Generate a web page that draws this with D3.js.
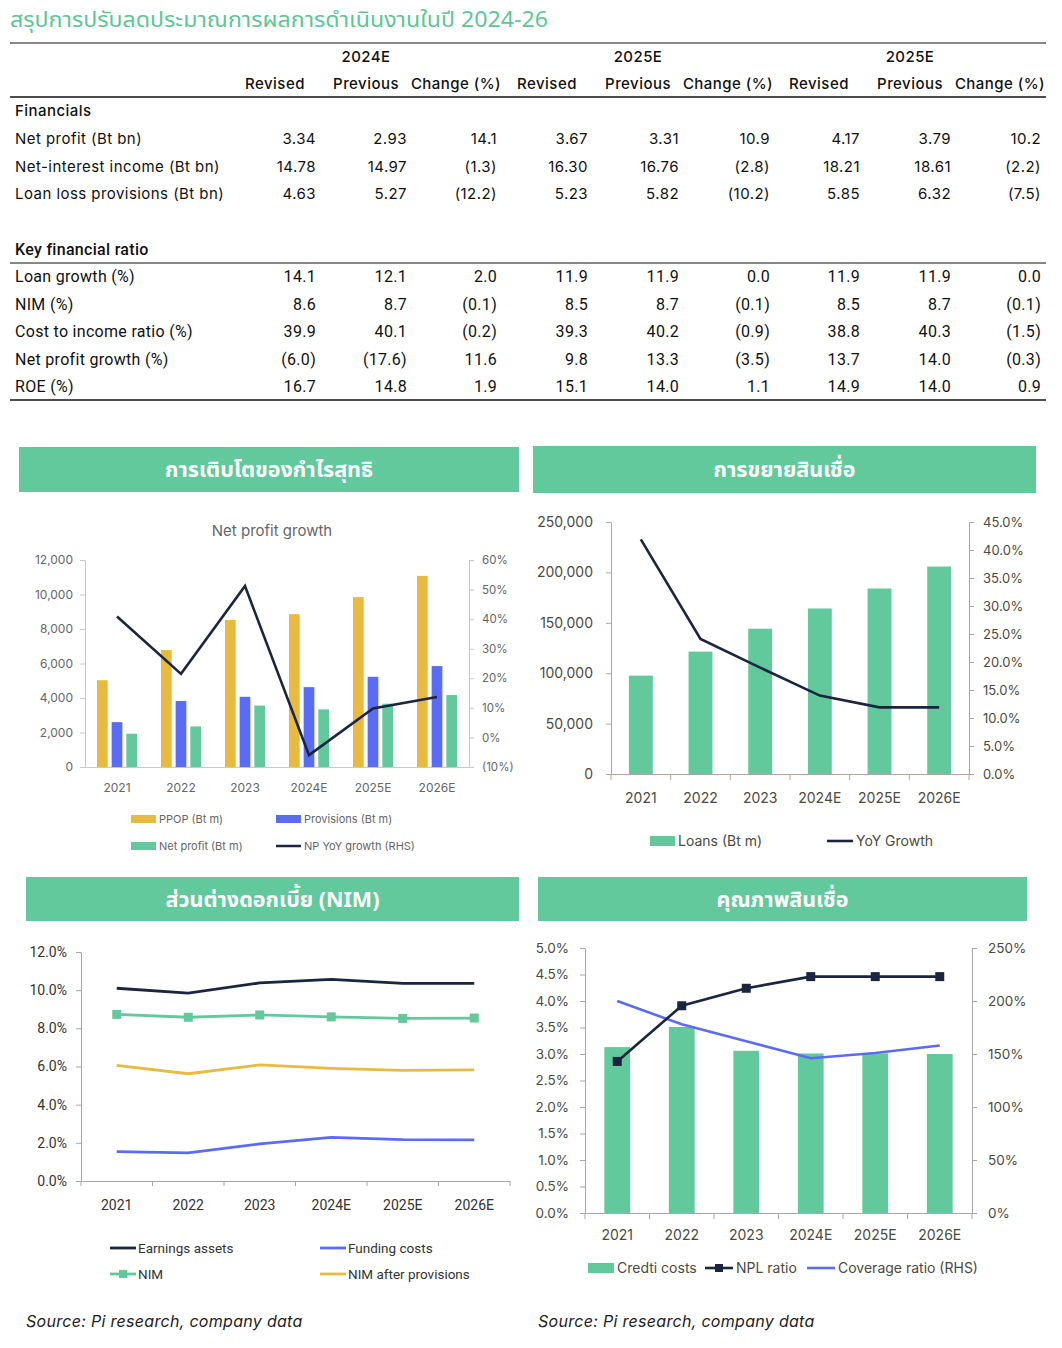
<!DOCTYPE html>
<html><head><meta charset="utf-8">
<script src="https://cdn.jsdelivr.net/npm/d3@7"></script>
<style>body{margin:0;background:#fff} svg{display:block}</style>
</head><body><svg id="c" width="1062" height="1348"></svg>
<script>
// ---------------- DATA ----------------
const pageTitle = "สรุปการปรับลดประมาณการผลการดำเนินงานในปี 2024-26";
const yearGroups = ["2024E", "2025E", "2025E"];
const subHeaders = ["Revised", "Previous", "Change (%)"];
const financialsTitle = "Financials";
const financialLabels = ["Net profit (Bt bn)", "Net-interest income (Bt bn)", "Loan loss provisions (Bt bn)"];
const financialValues = [
  ["3.34", "2.93", "14.1", "3.67", "3.31", "10.9", "4.17", "3.79", "10.2"],
  ["14.78", "14.97", "(1.3)", "16.30", "16.76", "(2.8)", "18.21", "18.61", "(2.2)"],
  ["4.63", "5.27", "(12.2)", "5.23", "5.82", "(10.2)", "5.85", "6.32", "(7.5)"]
];
const ratiosTitle = "Key financial ratio";
const ratioLabels = ["Loan growth (%)", "NIM (%)", "Cost to income ratio (%)", "Net profit growth (%)", "ROE (%)"];
const ratioValues = [
  ["14.1", "12.1", "2.0", "11.9", "11.9", "0.0", "11.9", "11.9", "0.0"],
  ["8.6", "8.7", "(0.1)", "8.5", "8.7", "(0.1)", "8.5", "8.7", "(0.1)"],
  ["39.9", "40.1", "(0.2)", "39.3", "40.2", "(0.9)", "38.8", "40.3", "(1.5)"],
  ["(6.0)", "(17.6)", "11.6", "9.8", "13.3", "(3.5)", "13.7", "14.0", "(0.3)"],
  ["16.7", "14.8", "1.9", "15.1", "14.0", "1.1", "14.9", "14.0", "0.9"]
];

const panelTitles = ["การเติบโตของกำไรสุทธิ", "การขยายสินเชื่อ", "ส่วนต่างดอกเบี้ย (NIM)", "คุณภาพสินเชื่อ"];
const sourceText = "Source: Pi research, company data";

const years = ["2021", "2022", "2023", "2024E", "2025E", "2026E"];

// Chart 1: Net profit growth
const chart1Title = "Net profit growth";
const ppop = [5030, 6780, 8520, 8860, 9850, 11080];
const provisions = [2600, 3830, 4070, 4630, 5230, 5850];
const netProfit = [1930, 2350, 3560, 3340, 3670, 4170];
const npGrowth = [40.9, 21.5, 51.2, -6.0, 9.8, 13.7];
const c1LeftTicks = [0, 2000, 4000, 6000, 8000, 10000, 12000];
const c1RightTicks = [-10, 0, 10, 20, 30, 40, 50, 60];
const c1Legend = ["PPOP (Bt m)", "Provisions (Bt m)", "Net profit (Bt m)", "NP YoY growth (RHS)"];

// Chart 2: Loans
const loans = [97600, 121400, 144100, 164200, 184000, 205800];
const loanGrowth = [41.9, 24.1, 19.0, 14.0, 11.9, 11.9];
const c2LeftTicks = [0, 50000, 100000, 150000, 200000, 250000];
const c2RightTicks = [0, 5, 10, 15, 20, 25, 30, 35, 40, 45];
const c2Legend = ["Loans (Bt m)", "YoY Growth"];

// Chart 3: NIM
const earningAssets = [10.1, 9.85, 10.38, 10.57, 10.36, 10.36];
const nim = [8.73, 8.58, 8.70, 8.60, 8.52, 8.54];
const nimAfterProv = [6.06, 5.62, 6.08, 5.90, 5.80, 5.82];
const fundingCosts = [1.54, 1.47, 1.94, 2.29, 2.17, 2.15];
const c3Ticks = [0, 2, 4, 6, 8, 10, 12];
const c3Legend = ["Earnings assets", "Funding costs", "NIM", "NIM after provisions"];

// Chart 4: Asset quality
const creditCosts = [3.13, 3.51, 3.06, 3.01, 3.01, 3.00];
const nplRatio = [2.86, 3.91, 4.24, 4.46, 4.46, 4.46];
const coverageRatio = [200, 178, 162, 146, 151, 158];
const c4LeftTicks = [0, 0.5, 1, 1.5, 2, 2.5, 3, 3.5, 4, 4.5, 5];
const c4RightTicks = [0, 50, 100, 150, 200, 250];
const c4Legend = ["Credti costs", "NPL ratio", "Coverage ratio (RHS)"];

// ---------------- STYLE ----------------
const GREEN = "#61c99b", GOLD = "#e8bb40", BLUE = "#5a6cf4", NAVY = "#1b2541";
const THAI = "'Noto Sans Thai','Noto Sans Thai UI','Noto Sans',sans-serif";
const TF = "Inter, 'Noto Sans', sans-serif";
const RF = "Roboto, sans-serif";

const svg = d3.select("#c");

// ---------------- TITLE ----------------
svg.append("text").attr("x", 10).attr("y", 27).text(pageTitle)
  .attr("font-family", THAI).attr("font-size", 21).attr("fill", "#5cc795")
  .attr("textLength", 538).attr("lengthAdjust", "spacingAndGlyphs");

// ---------------- TABLE ----------------
const colRight = [316, 407, 497, 588, 679, 770, 860, 951, 1041];
const colCenter = [275, 366, 456, 547, 638, 728, 819, 910, 1000];
const tbl = svg.append("g").attr("font-family", TF).attr("font-size", 15).attr("fill", "#111").attr("letter-spacing", 0.45);
const hline = (y, w) => tbl.append("line").attr("x1", 10).attr("x2", 1046).attr("y1", y).attr("y2", y).attr("stroke", "#111").attr("stroke-width", w);
hline(43, 1.2); hline(97, 1.6); hline(263, 1.2); hline(400, 1.6);
yearGroups.forEach((g, i) => tbl.append("text").attr("x", colCenter[i * 3 + 1]).attr("y", 62).attr("text-anchor", "middle").attr("font-weight", 500).text(g));
colCenter.forEach((cx, i) => tbl.append("text").attr("x", cx).attr("y", 89).attr("text-anchor", "middle").attr("font-weight", 500).text(subHeaders[i % 3]));
tbl.append("text").attr("x", 15).attr("y", 116).attr("font-weight", 500).text(financialsTitle);
financialLabels.forEach((lab, r) => {
  const y = 144 + r * 27.5;
  tbl.append("text").attr("x", 15).attr("y", y).text(lab);
  financialValues[r].forEach((v, c) => tbl.append("text").attr("x", colRight[c]).attr("y", y).attr("text-anchor", "end").text(v));
});
const tbl2 = svg.append("g").attr("font-family", RF).attr("font-size", 16).attr("fill", "#111").attr("letter-spacing", 0.3);
tbl2.append("text").attr("x", 15).attr("y", 254.5).attr("font-weight", 500).text(ratiosTitle);
ratioLabels.forEach((lab, r) => {
  const y = 282 + r * 27.6;
  tbl2.append("text").attr("x", 15).attr("y", y).text(lab);
  ratioValues[r].forEach((v, c) => tbl2.append("text").attr("x", colRight[c]).attr("y", y).attr("text-anchor", "end").text(v));
});

// ---------------- PANEL HEADERS ----------------
const panelBoxes = [[19, 447, 500, 45], [533, 446, 503, 47], [26, 877, 493, 44], [538, 877, 489, 44]];
panelBoxes.forEach((b, i) => {
  svg.append("rect").attr("x", b[0]).attr("y", b[1]).attr("width", b[2]).attr("height", b[3]).attr("fill", GREEN);
  svg.append("text").attr("x", b[0] + b[2] / 2).attr("y", b[1] + b[3] / 2 + 7.5).attr("text-anchor", "middle")
    .attr("font-family", THAI).attr("font-weight", 700).attr("font-size", 21.5).attr("fill", "#fff").text(panelTitles[i]);
});

function styleAxis(g, color, textColor, fs, ff) {
  g.selectAll("path").attr("stroke", color);
  g.selectAll("line").attr("stroke", color);
  g.selectAll("text").attr("fill", textColor).attr("font-size", fs).attr("font-family", ff);
}
const pct0 = d => d < 0 ? "(" + Math.abs(d) + "%)" : d + "%";

// ---------------- CHART 1 ----------------
{
  const x = d3.scaleBand().domain(years).range([85, 469]);
  const yL = d3.scaleLinear().domain([0, 12000]).range([767, 560]);
  const yR = d3.scaleLinear().domain([-10, 60]).range([767, 560]);
  const sub = d3.scaleBand().domain([0, 1, 2]).range([-20, 20]).paddingInner(0.27);
  const g = svg.append("g");
  const AX = "#c8c8c8", TX = "#666";
  svg.append("text").attr("x", 272).attr("y", 536).attr("text-anchor", "middle").attr("font-family", TF)
    .attr("font-size", 15).attr("fill", "#666").text(chart1Title);
  const la = g.append("g").attr("transform", "translate(85,0)")
    .call(d3.axisLeft(yL).tickValues(c1LeftTicks).tickFormat(d3.format(",")).tickSize(5).tickSizeOuter(0).tickPadding(7));
  styleAxis(la, AX, TX, 12, TF);
  const ra = g.append("g").attr("transform", "translate(469,0)")
    .call(d3.axisRight(yR).tickValues(c1RightTicks).tickFormat(pct0).tickSize(5).tickSizeOuter(0).tickPadding(8));
  styleAxis(ra, AX, TX, 11.5, TF);
  g.append("line").attr("x1", 80).attr("x2", 469).attr("y1", 767.5).attr("y2", 767.5).attr("stroke", AX);
  const series = [[ppop, GOLD], [provisions, BLUE], [netProfit, GREEN]];
  series.forEach(([vals, col], si) => {
    g.selectAll(null).data(years).enter().append("rect")
      .attr("x", d => x(d) + x.bandwidth() / 2 + sub(si))
      .attr("width", sub.bandwidth())
      .attr("y", (d, i) => yL(vals[i])).attr("height", (d, i) => yL(0) - yL(vals[i])).attr("fill", col);
  });
  g.append("path").datum(npGrowth)
    .attr("d", d3.line().x((d, i) => x(years[i]) + x.bandwidth() / 2).y(d => yR(d)))
    .attr("fill", "none").attr("stroke", NAVY).attr("stroke-width", 2.6);
  g.append("g").selectAll("text").data(years).enter().append("text")
    .attr("x", d => x(d) + x.bandwidth() / 2).attr("y", 792).attr("text-anchor", "middle")
    .attr("font-family", TF).attr("font-size", 12).attr("fill", TX).text(d => d);
  const lg = g.append("g").attr("font-family", TF).attr("font-size", 11).attr("fill", TX);
  const items = [[131, 819, "rect", GOLD], [276, 819, "rect", BLUE], [131, 846, "rect", GREEN], [276, 846, "line", NAVY]];
  items.forEach((it, i) => {
    if (it[2] === "rect") lg.append("rect").attr("x", it[0]).attr("y", it[1] - 4).attr("width", 25).attr("height", 8).attr("fill", it[3]);
    else lg.append("line").attr("x1", it[0]).attr("x2", it[0] + 25).attr("y1", it[1]).attr("y2", it[1]).attr("stroke", it[3]).attr("stroke-width", 2.5);
    lg.append("text").attr("x", it[0] + 28).attr("y", it[1] + 4).text(c1Legend[i]);
  });
}

// ---------------- CHART 2 ----------------
{
  const x = d3.scaleBand().domain(years).range([611, 969]).paddingInner(0.6).paddingOuter(0.3);
  const xb = d3.scaleBand().domain(years).range([611, 969]);
  const yL = d3.scaleLinear().domain([0, 250000]).range([774, 522]);
  const yR = d3.scaleLinear().domain([0, 45]).range([774, 522]);
  const AX = "#b3a698", TX = "#4d4a40";
  const g = svg.append("g");
  const la = g.append("g").attr("transform", "translate(611,0)")
    .call(d3.axisLeft(yL).tickValues(c2LeftTicks).tickFormat(d3.format(",")).tickSize(5).tickSizeOuter(0).tickPadding(13));
  styleAxis(la, AX, TX, 14, TF);
  const ra = g.append("g").attr("transform", "translate(969,0)")
    .call(d3.axisRight(yR).tickValues(c2RightTicks).tickFormat(d => d.toFixed(1) + "%").tickSize(5).tickSizeOuter(0).tickPadding(9));
  styleAxis(ra, AX, TX, 13, TF);
  g.selectAll(null).data(years).enter().append("rect")
    .attr("x", d => x(d)).attr("width", x.bandwidth())
    .attr("y", (d, i) => yL(loans[i])).attr("height", (d, i) => yL(0) - yL(loans[i])).attr("fill", GREEN);
  g.append("line").attr("x1", 606).attr("x2", 974).attr("y1", 774.5).attr("y2", 774.5).attr("stroke", AX);
  g.selectAll(null).data(years.concat(["end"])).enter().append("line")
    .attr("x1", (d, i) => 611 + i * xb.step()).attr("x2", (d, i) => 611 + i * xb.step())
    .attr("y1", 774).attr("y2", 780).attr("stroke", AX);
  g.append("path").datum(loanGrowth)
    .attr("d", d3.line().x((d, i) => x(years[i]) + x.bandwidth() / 2).y(d => yR(d)))
    .attr("fill", "none").attr("stroke", NAVY).attr("stroke-width", 2.6);
  g.append("g").selectAll("text").data(years).enter().append("text")
    .attr("x", d => x(d) + x.bandwidth() / 2).attr("y", 803).attr("text-anchor", "middle")
    .attr("font-family", TF).attr("font-size", 14).attr("fill", TX).text(d => d);
  const lg = g.append("g").attr("font-family", TF).attr("font-size", 14).attr("fill", TX);
  lg.append("rect").attr("x", 650).attr("y", 836).attr("width", 25).attr("height", 10).attr("fill", GREEN);
  lg.append("text").attr("x", 678).attr("y", 846).text(c2Legend[0]);
  lg.append("line").attr("x1", 827).attr("x2", 853).attr("y1", 841).attr("y2", 841).attr("stroke", NAVY).attr("stroke-width", 2.6);
  lg.append("text").attr("x", 856).attr("y", 846).text(c2Legend[1]);
}

// ---------------- CHART 3 ----------------
{
  const x = d3.scaleBand().domain(years).range([81, 510]);
  const y = d3.scaleLinear().domain([0, 12]).range([1181, 952]);
  const AX = "#a6a6a6", TX = "#333";
  const g = svg.append("g");
  const la = g.append("g").attr("transform", "translate(81,0)")
    .call(d3.axisLeft(y).tickValues(c3Ticks).tickFormat(d => d.toFixed(1) + "%").tickSize(5).tickSizeOuter(0).tickPadding(9));
  styleAxis(la, AX, TX, 14, RF);
  g.append("line").attr("x1", 76).attr("x2", 510).attr("y1", 1181.5).attr("y2", 1181.5).attr("stroke", AX);
  g.selectAll(null).data(years.concat(["end"])).enter().append("line")
    .attr("x1", (d, i) => 81 + i * x.step()).attr("x2", (d, i) => 81 + i * x.step())
    .attr("y1", 1181).attr("y2", 1186).attr("stroke", AX);
  const cx = (d, i) => x(years[i]) + x.bandwidth() / 2;
  const line = d3.line().x(cx).y(d => y(d));
  [[earningAssets, NAVY], [nim, GREEN], [nimAfterProv, GOLD], [fundingCosts, BLUE]].forEach(([v, c]) => {
    g.append("path").datum(v).attr("d", line).attr("fill", "none").attr("stroke", c).attr("stroke-width", 2.8);
  });
  g.selectAll(null).data(nim).enter().append("rect")
    .attr("x", (d, i) => cx(d, i) - 4.5).attr("y", d => y(d) - 4.5).attr("width", 9).attr("height", 9).attr("fill", GREEN);
  g.append("g").selectAll("text").data(years).enter().append("text")
    .attr("x", d => x(d) + x.bandwidth() / 2).attr("y", 1210).attr("text-anchor", "middle")
    .attr("font-family", RF).attr("font-size", 14).attr("fill", TX).text(d => d);
  const lg = g.append("g").attr("font-family", RF).attr("font-size", 13.5).attr("fill", TX);
  const items = [[110, 1248, NAVY, false], [320, 1248, BLUE, false], [110, 1274, GREEN, true], [320, 1274, GOLD, false]];
  items.forEach((it, i) => {
    lg.append("line").attr("x1", it[0]).attr("x2", it[0] + 26).attr("y1", it[1]).attr("y2", it[1]).attr("stroke", it[2]).attr("stroke-width", 2.8);
    if (it[3]) lg.append("rect").attr("x", it[0] + 9).attr("y", it[1] - 4).attr("width", 8).attr("height", 8).attr("fill", it[2]);
    lg.append("text").attr("x", it[0] + 28).attr("y", it[1] + 5).text(c3Legend[i]);
  });
  svg.append("text").attr("x", 26).attr("y", 1327).attr("font-family", TF).attr("font-style", "italic")
    .attr("font-size", 16).attr("letter-spacing", 0.3).attr("fill", "#222").text(sourceText);
}

// ---------------- CHART 4 ----------------
{
  const x = d3.scaleBand().domain(years).range([585, 972]).paddingInner(0.6).paddingOuter(0.3);
  const xb = d3.scaleBand().domain(years).range([585, 972]);
  const yL = d3.scaleLinear().domain([0, 5]).range([1213, 948]);
  const yR = d3.scaleLinear().domain([0, 250]).range([1213, 948]);
  const AX = "#a8a8a8", TX = "#4d4a40";
  const g = svg.append("g");
  const la = g.append("g").attr("transform", "translate(585,0)")
    .call(d3.axisLeft(yL).tickValues(c4LeftTicks).tickFormat(d => d.toFixed(1) + "%").tickSize(5).tickSizeOuter(0).tickPadding(11));
  styleAxis(la, AX, TX, 13.5, TF);
  const ra = g.append("g").attr("transform", "translate(972,0)")
    .call(d3.axisRight(yR).tickValues(c4RightTicks).tickFormat(d => d + "%").tickSize(5).tickSizeOuter(0).tickPadding(11));
  styleAxis(ra, AX, TX, 13.5, TF);
  g.selectAll(null).data(years).enter().append("rect")
    .attr("x", d => x(d)).attr("width", x.bandwidth())
    .attr("y", (d, i) => yL(creditCosts[i])).attr("height", (d, i) => yL(0) - yL(creditCosts[i])).attr("fill", GREEN);
  g.append("line").attr("x1", 580).attr("x2", 972).attr("y1", 1213.5).attr("y2", 1213.5).attr("stroke", AX);
  g.selectAll(null).data(years.concat(["end"])).enter().append("line")
    .attr("x1", (d, i) => 585 + i * xb.step()).attr("x2", (d, i) => 585 + i * xb.step())
    .attr("y1", 1213).attr("y2", 1219).attr("stroke", AX);
  const cx = (d, i) => x(years[i]) + x.bandwidth() / 2;
  g.append("path").datum(coverageRatio).attr("d", d3.line().x(cx).y(d => yR(d)))
    .attr("fill", "none").attr("stroke", BLUE).attr("stroke-width", 2.6);
  g.append("path").datum(nplRatio).attr("d", d3.line().x(cx).y(d => yL(d)))
    .attr("fill", "none").attr("stroke", NAVY).attr("stroke-width", 2.6);
  g.selectAll(null).data(nplRatio).enter().append("rect")
    .attr("x", (d, i) => cx(d, i) - 4.5).attr("y", d => yL(d) - 4.5).attr("width", 9).attr("height", 9).attr("fill", NAVY);
  g.append("g").selectAll("text").data(years).enter().append("text")
    .attr("x", d => x(d) + x.bandwidth() / 2).attr("y", 1240).attr("text-anchor", "middle")
    .attr("font-family", TF).attr("font-size", 14).attr("fill", TX).text(d => d);
  const lg = g.append("g").attr("font-family", TF).attr("font-size", 14).attr("fill", TX);
  lg.append("rect").attr("x", 588).attr("y", 1263).attr("width", 26).attr("height", 10).attr("fill", GREEN);
  lg.append("text").attr("x", 617).attr("y", 1273).text(c4Legend[0]);
  lg.append("line").attr("x1", 705).attr("x2", 733).attr("y1", 1268).attr("y2", 1268).attr("stroke", NAVY).attr("stroke-width", 2.6);
  lg.append("rect").attr("x", 715).attr("y", 1264).attr("width", 8).attr("height", 8).attr("fill", NAVY);
  lg.append("text").attr("x", 736).attr("y", 1273).text(c4Legend[1]);
  lg.append("line").attr("x1", 807).attr("x2", 835).attr("y1", 1268).attr("y2", 1268).attr("stroke", BLUE).attr("stroke-width", 2.6);
  lg.append("text").attr("x", 838).attr("y", 1273).text(c4Legend[2]);
  svg.append("text").attr("x", 538).attr("y", 1327).attr("font-family", TF).attr("font-style", "italic")
    .attr("font-size", 16).attr("letter-spacing", 0.3).attr("fill", "#222").text(sourceText);
}
</script></body></html>
